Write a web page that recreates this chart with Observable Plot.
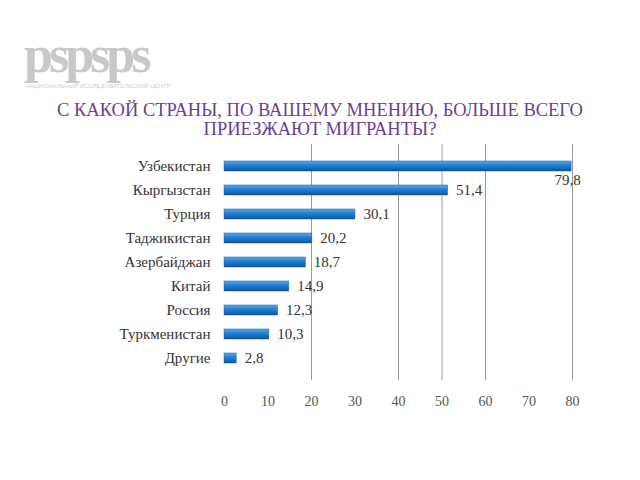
<!DOCTYPE html>
<html><head><meta charset="utf-8">
<script src="https://cdn.jsdelivr.net/npm/d3@7"></script>
<script src="https://cdn.jsdelivr.net/npm/@observablehq/plot@0.6"></script>
<style>
body{margin:0;width:640px;height:480px;background:#fff;position:relative;overflow:hidden}
#logo{position:absolute;left:24px;top:30px;color:#c8c8c8;font-family:"Liberation Serif",serif;font-weight:bold;font-size:52px;letter-spacing:-4px;line-height:50px}
#logosub{position:absolute;left:26px;top:83px;color:#cfcfcf;font-family:"Liberation Sans",sans-serif;font-size:6px;line-height:7px}
#title{position:absolute;left:0;top:101px;width:640px;text-align:center;color:#6b3f92;font-family:"Liberation Serif",serif;font-size:18.5px;line-height:19px}
#chart{position:absolute;left:0;top:140px}
#chart svg, #chart svg text{font-family:"Liberation Serif",serif !important}
</style></head><body>
<div id="logo">pspsps</div>
<div id="logosub">НАЦИОНАЛЬНЫЙ ИССЛЕДОВАТЕЛЬСКИЙ ЦЕНТР</div>
<div id="title">С КАКОЙ СТРАНЫ, ПО ВАШЕМУ МНЕНИЮ, БОЛЬШЕ ВСЕГО<br>ПРИЕЗЖАЮТ МИГРАНТЫ?</div>
<div id="chart"></div>
<script>
const countries = ["Узбекистан","Кыргызстан","Турция","Таджикистан","Азербайджан","Китай","Россия","Туркменистан","Другие"];
const values = [79.8, 51.4, 30.1, 20.2, 18.7, 14.9, 12.3, 10.3, 2.8];
const xTicks = [0,10,20,30,40,50,60,70,80];
const gridValues = [20,40,50,60,80];

const data = countries.map((c,i)=>({country:c, value:values[i]}));
const fmt = v => v.toFixed(1).replace(".", ",");

const plot = Plot.plot({
  width: 640, height: 280,
  marginLeft: 224, marginRight: 68, marginTop: 4, marginBottom: 40,
  style: {background: "transparent"},
  x: {domain: [0, 80], ticks: xTicks, tickSize: 0, tickPadding: 16, label: null, tickFormat: d => String(d)},
  y: {domain: countries, padding: 0.6, label: null, tickSize: 0, tickPadding: 14},
  marks: [
    Plot.ruleX(gridValues, {stroke: "#999", strokeWidth: 1}),
    Plot.barX(data, {y: "country", x: "value", fill: "url(#barGrad)", stroke: "#1a5fa0", strokeWidth: 0.5}),
    Plot.text(data.filter(d => d.value < 70), {y: "country", x: "value", text: d => fmt(d.value), textAnchor: "start", dx: 8, fontSize: 15, fill: "#333"}),
    Plot.text(data.filter(d => d.value >= 70), {y: "country", x: "value", text: d => fmt(d.value), textAnchor: "middle", dx: -4, dy: 14, fontSize: 15, fill: "#333"}),
    Plot.axisX({ticks: xTicks, tickSize: 0, tickPadding: 16, fontSize: 14, fill: "#555", label: null}),
    Plot.axisY({tickSize: 0, tickPadding: 14, fontSize: 15, fill: "#333", label: null})
  ]
});
const ns = "http://www.w3.org/2000/svg";
const defs = document.createElementNS(ns, "defs");
defs.innerHTML = '<linearGradient id="barGrad" x1="0" y1="0" x2="0" y2="1"><stop offset="0" stop-color="#5aaee8"/><stop offset="0.35" stop-color="#2a86d6"/><stop offset="0.75" stop-color="#1668b8"/><stop offset="1" stop-color="#0f4f8f"/></linearGradient>';
plot.insertBefore(defs, plot.firstChild);
document.getElementById("chart").appendChild(plot);
</script>
</body></html>
